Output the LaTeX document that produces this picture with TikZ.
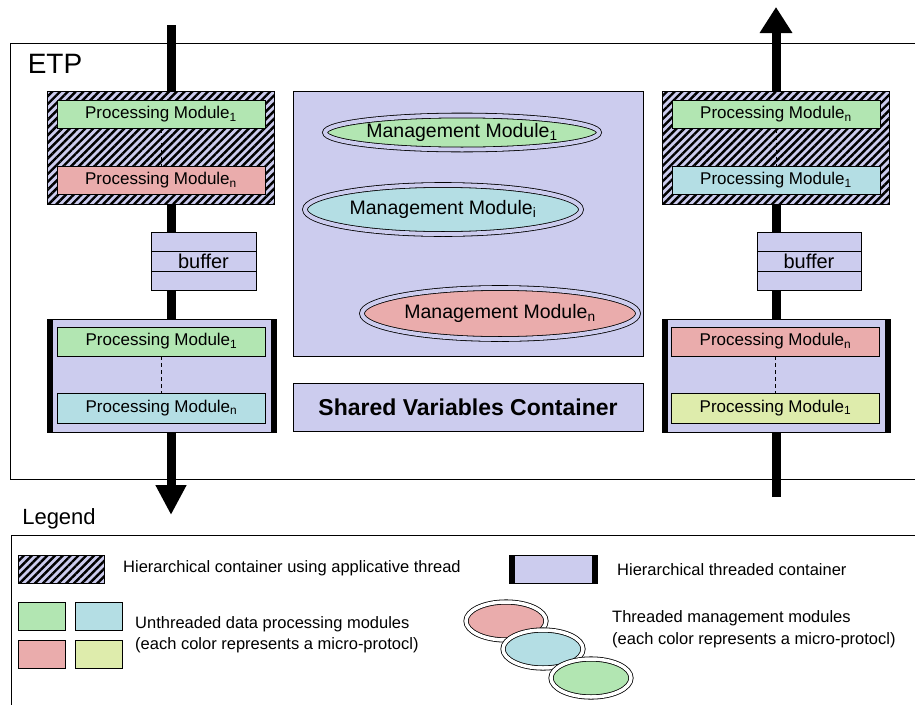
\documentclass[tikz,border=0pt]{standalone}
\usepackage{fontspec}
\setmainfont{Liberation Sans}
\usetikzlibrary{shapes.geometric,arrows.meta,patterns.meta}

\definecolor{lav}{RGB}{204,204,238}
\definecolor{pmgreen}{RGB}{178,230,178}
\definecolor{pmred}{RGB}{234,172,172}
\definecolor{pmcyan}{RGB}{180,222,228}
\definecolor{pmyellow}{RGB}{222,236,172}

\tikzset{
  box/.style={draw, inner sep=0pt},
  pm/.style={box, minimum width=208pt, minimum height=28pt, font=\fontsize{17}{20}\selectfont},
  hatched/.style={box, preaction={fill=lav}, pattern={Lines[angle=45,distance=5.5pt,line width=2.4pt]}, pattern color=black},
  threaded/.style={box, fill=lav, path picture={
      \draw[line width=11pt] (path picture bounding box.north west) -- (path picture bounding box.south west)
                             (path picture bounding box.north east) -- (path picture bounding box.south east);}},
  bufbox/.style={box, fill=lav, minimum width=105pt, minimum height=58pt, font=\fontsize{20}{22}\selectfont},
  ring/.style={ellipse, draw, line width=0.8pt, double distance=4pt, inner sep=0pt},
  mm/.style={ring, double=lav, minimum width=276pt, label={[font=\fontsize{19.5}{22}\selectfont]center:#1}},
  mmsmall/.style={ring, double=white, double distance=3.5pt, minimum width=80pt, minimum height=38pt},
  flow/.style={line width=9pt},
  dots/.style={dash pattern=on 4pt off 3pt},
  legtext/.style={anchor=west, align=left, inner sep=0pt, font=\fontsize{16.5}{21.5}\selectfont}
}

\begin{document}
\begin{tikzpicture}[x=1pt,y=-1pt]
  \clip (0,0) rectangle (915,704);
  \fill[white] (0,0) rectangle (915,704);

  % ETP frame
  \draw (10,43) rectangle (940,479);
  \node[font=\fontsize{28}{30}\selectfont] (etp) at (55,64) {ETP};

  % data flow, in on the left, out on the right
  \coordinate (inL) at (171,25);
  \coordinate (outL) at (171,515);
  \coordinate (inR) at (776,497);
  \coordinate (outR) at (776,7);
  \draw[flow,-{Triangle[width=29pt,length=30pt]}] (inL) -- (outL);
  \draw[flow,-{Triangle[width=31pt,length=26pt]}] (inR) -- (outR);

  % left stack
  \node[hatched, minimum width=227pt, minimum height=113pt] (hatchL) at (160.5,147.5) {};
  \node[pm, fill=pmgreen] (pmL1) at (161,114.5) {Processing Module\textsubscript{1}};
  \node[pm, fill=pmred] (pmLn) at (161,180.5) {Processing Module\textsubscript{n}};
  \draw[dots] (pmL1.south) -- (pmLn.north);
  \node[bufbox] (bufL) at (203.5,261) {buffer};
  \draw ([yshift=10pt]bufL.west) -- ([yshift=10pt]bufL.east);
  \draw ([yshift=-10pt]bufL.west) -- ([yshift=-10pt]bufL.east);
  \node[threaded, minimum width=229pt, minimum height=113pt] (thrL) at (161.5,375.5) {};
  \node[pm, fill=pmgreen, minimum height=29pt] (pmL1b) at (161.5,341.5) {Processing Module\textsubscript{1}};
  \node[pm, fill=pmcyan, minimum height=30pt] (pmLnb) at (161.5,408) {Processing Module\textsubscript{n}};
  \draw[dots] (pmL1b.south) -- (pmLnb.north);

  % shared part
  \node[box, fill=lav, minimum width=350pt, minimum height=265pt] (shared) at (468,223.5) {};
  \node[mm={Management Module\textsubscript{1}}, fill=pmgreen, minimum width=274pt, minimum height=34pt] (mm1) at (462,132.5) {};
  \node[mm={Management Module\textsubscript{i}}, fill=pmcyan, minimum height=49pt] (mmi) at (443,209.5) {};
  \node[mm={Management Module\textsubscript{n}}, fill=pmred, minimum height=51pt] (mmn) at (500,313.5) {};
  \node[box, fill=lav, minimum width=350pt, minimum height=48pt, font=\bfseries\fontsize{23}{25}\selectfont] (svc) at (468,407) {Shared Variables Container};

  % right stack
  \node[hatched, minimum width=227pt, minimum height=113pt] (hatchR) at (775.5,147.5) {};
  \node[pm, fill=pmgreen] (pmRn) at (776,114.5) {Processing Module\textsubscript{n}};
  \node[pm, fill=pmcyan] (pmR1) at (776,180.5) {Processing Module\textsubscript{1}};
  \draw[dots] (pmRn.south) -- (pmR1.north);
  \node[bufbox, minimum width=104pt] (bufR) at (809,261) {buffer};
  \draw ([yshift=10pt]bufR.west) -- ([yshift=10pt]bufR.east);
  \draw ([yshift=-10pt]bufR.west) -- ([yshift=-10pt]bufR.east);
  \node[threaded, minimum width=228pt, minimum height=113pt] (thrR) at (776,375.5) {};
  \node[pm, fill=pmred, minimum height=29pt] (pmRnb) at (775.5,341.5) {Processing Module\textsubscript{n}};
  \node[pm, fill=pmyellow, minimum height=30pt] (pmR1b) at (775.5,408) {Processing Module\textsubscript{1}};
  \draw[dots] (pmRnb.south) -- (pmR1b.north);

  % legend
  \node[font=\fontsize{22}{24}\selectfont] (legend) at (59,519) {Legend};
  \draw (11,535) rectangle (940,720);
  \node[hatched, minimum width=86pt, minimum height=28pt] (keyHatch) at (61,569) {};
  \node[legtext] (txtHatch) at (123,568) {Hierarchical container using applicative thread};
  \node[threaded, minimum width=88pt, minimum height=28pt] (keyThr) at (553,569) {};
  \node[legtext] (txtThr) at (617,570) {Hierarchical threaded container};
  \foreach \c/\x/\y in {pmgreen/42/616, pmcyan/99/616, pmred/42/654.5, pmyellow/99/654.5}
    \node[box, fill=\c, minimum width=47pt, minimum height=28pt] (key-\c) at (\x,\y) {};
  \node[legtext] (txtPm) at (135,634.5) {Unthreaded data processing modules\\(each color represents a micro-protocl)};
  \node[mmsmall, fill=pmred] (keyMm1) at (506,621) {};
  \node[mmsmall, fill=pmcyan] (keyMm2) at (543,649) {};
  \node[mmsmall, fill=pmgreen] (keyMm3) at (591,678) {};
  \node[legtext] (txtMm) at (612,629) {Threaded management modules\\(each color represents a micro-protocl)};
\end{tikzpicture}
\end{document}
